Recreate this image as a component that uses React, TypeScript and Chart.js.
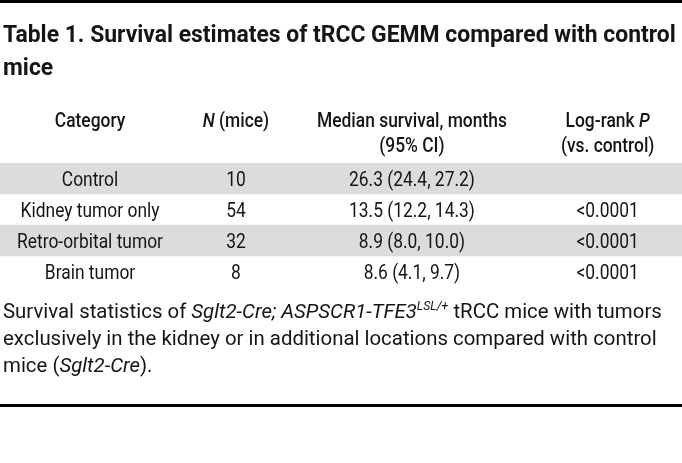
import React, { useEffect, useRef } from "react";
import { Chart, registerables } from "chart.js";

Chart.register(...registerables);

// ---------- data ----------
const TITLE_LINES = [
  "Table 1. Survival estimates of tRCC GEMM compared with control",
  "mice",
];
const CATEGORIES = ["Control", "Kidney tumor only", "Retro-orbital tumor", "Brain tumor"];
const N_MICE = [10, 54, 32, 8];
const MEDIAN_MONTHS = [26.3, 13.5, 8.9, 8.6];
const CI_LOW = [24.4, 12.2, 8.0, 4.1];
const CI_HIGH = [27.2, 14.3, 10.0, 9.7];
const LOGRANK_P = ["", "<0.0001", "<0.0001", "<0.0001"];

type Run = { text: string; italic?: boolean; sup?: boolean };

const HEADERS: Run[][][] = [
  [[{ text: "Category" }]],
  [[{ text: "N", italic: true }, { text: " (mice)" }]],
  [[{ text: "Median survival, months" }], [{ text: "(95% CI)" }]],
  [[{ text: "Log-rank " }, { text: "P", italic: true }], [{ text: "(vs. control)" }]],
];

const CAPTION_LINES: Run[][] = [
  [
    { text: "Survival statistics of " },
    { text: "Sglt2-Cre; ASPSCR1-TFE3", italic: true },
    { text: "LSL/+", italic: true, sup: true },
    { text: " tRCC mice with tumors" },
  ],
  [{ text: "exclusively in the kidney or in additional locations compared with control" }],
  [{ text: "mice (" }, { text: "Sglt2-Cre", italic: true }, { text: ")." }],
];

// ---------- layout / style ----------
const W = 682;
const H = 463;
const FAMILY = "Roboto, 'Noto Sans', 'DejaVu Sans', sans-serif";
const TEXT = "#151515";
const BAND = "#dcdcdc";
const COL_CENTER = [0.132, 0.346, 0.604, 0.891]; // in x-scale units (0..1)
const STRETCH_TITLE = 0.995;
const STRETCH_HEAD = 0.87;
const STRETCH_BODY = 0.87;
const STRETCH_CAP = 1.02;

function drawRuns(
  ctx: CanvasRenderingContext2D,
  runs: Run[],
  x: number,
  y: number,
  align: "left" | "center",
  size: number,
  weight: number,
  stretch: number
) {
  const fontFor = (r: Run) =>
    `${r.italic ? "italic " : ""}${weight} ${r.sup ? Math.round(size * 0.6) : size}px ${FAMILY}`;
  let total = 0;
  const widths = runs.map((r) => {
    ctx.font = fontFor(r);
    const w = ctx.measureText(r.text).width;
    total += w;
    return w;
  });
  const x0 = align === "center" ? x - (total * stretch) / 2 : x;
  ctx.save();
  ctx.translate(x0, y);
  ctx.scale(stretch, 1);
  ctx.fillStyle = TEXT;
  ctx.textAlign = "left";
  ctx.textBaseline = "alphabetic";
  let cx = 0;
  runs.forEach((r, k) => {
    ctx.font = fontFor(r);
    ctx.fillText(r.text, cx, r.sup ? -size * 0.42 : 0);
    cx += widths[k];
  });
  ctx.restore();
}

const tablePlugin = {
  id: "tableText",
  afterDraw(chart: any) {
    const ctx: CanvasRenderingContext2D = chart.ctx;
    const { top, bottom, left } = chart.chartArea;
    const xs = chart.scales.x;
    const ys = chart.scales.y;

    // rules
    ctx.save();
    ctx.fillStyle = "#000";
    ctx.fillRect(0, 0, W, 3);
    ctx.fillRect(0, bottom + 117, W, 3);
    ctx.restore();

    // title
    TITLE_LINES.forEach((t, i) => {
      drawRuns(ctx, [{ text: t }], left + 3, top - 121 + i * 33, "left", 23, 700, STRETCH_TITLE);
    });

    // header
    HEADERS.forEach((lines, c) => {
      const cx = xs.getPixelForValue(COL_CENTER[c]);
      lines.forEach((runs, li) => {
        drawRuns(ctx, runs, cx, top - 36 + li * 25, "center", 20, 500, STRETCH_HEAD);
      });
    });

    // body
    CATEGORIES.forEach((cat, i) => {
      const y = ys.getPixelForValue(i) + 7;
      const cells = [
        cat,
        String(N_MICE[i]),
        `${MEDIAN_MONTHS[i].toFixed(1)} (${CI_LOW[i].toFixed(1)}, ${CI_HIGH[i].toFixed(1)})`,
        LOGRANK_P[i],
      ];
      cells.forEach((txt, c) => {
        if (!txt) return;
        drawRuns(ctx, [{ text: txt }], xs.getPixelForValue(COL_CENTER[c]), y, "center", 20, 400, STRETCH_BODY);
      });
    });

    // caption
    CAPTION_LINES.forEach((runs, i) => {
      drawRuns(ctx, runs, left + 3, bottom + 31 + i * 27, "left", 20, 400, STRETCH_CAP);
    });
  },
};

export default function App() {
  const ref = useRef<HTMLCanvasElement | null>(null);

  useEffect(() => {
    if (!ref.current) return;
    const bands = CATEGORIES.map((_, i) => (i % 2 === 0 ? [0, 1] : null));
    const chart = new Chart(ref.current, {
      type: "bar",
      data: {
        labels: CATEGORIES,
        datasets: [
          {
            data: bands as any,
            backgroundColor: BAND,
            borderWidth: 0,
            barPercentage: 1,
            categoryPercentage: 1,
          },
        ],
      },
      options: {
        indexAxis: "y",
        animation: false,
        responsive: false,
        events: [],
        layout: { padding: { top: 163, bottom: H - 287, left: 0, right: 0 } },
        scales: {
          x: { type: "linear", min: 0, max: 1, display: false },
          y: { type: "category", display: false, offset: true },
        },
        plugins: { legend: { display: false }, tooltip: { enabled: false } },
      },
      plugins: [tablePlugin],
    });
    return () => chart.destroy();
  }, []);

  return (
    <div style={{ position: "fixed", left: 0, top: 0, width: W, height: H, background: "#fff" }}>
      <canvas ref={ref} width={W} height={H} style={{ display: "block", width: W, height: H }} />
    </div>
  );
}
